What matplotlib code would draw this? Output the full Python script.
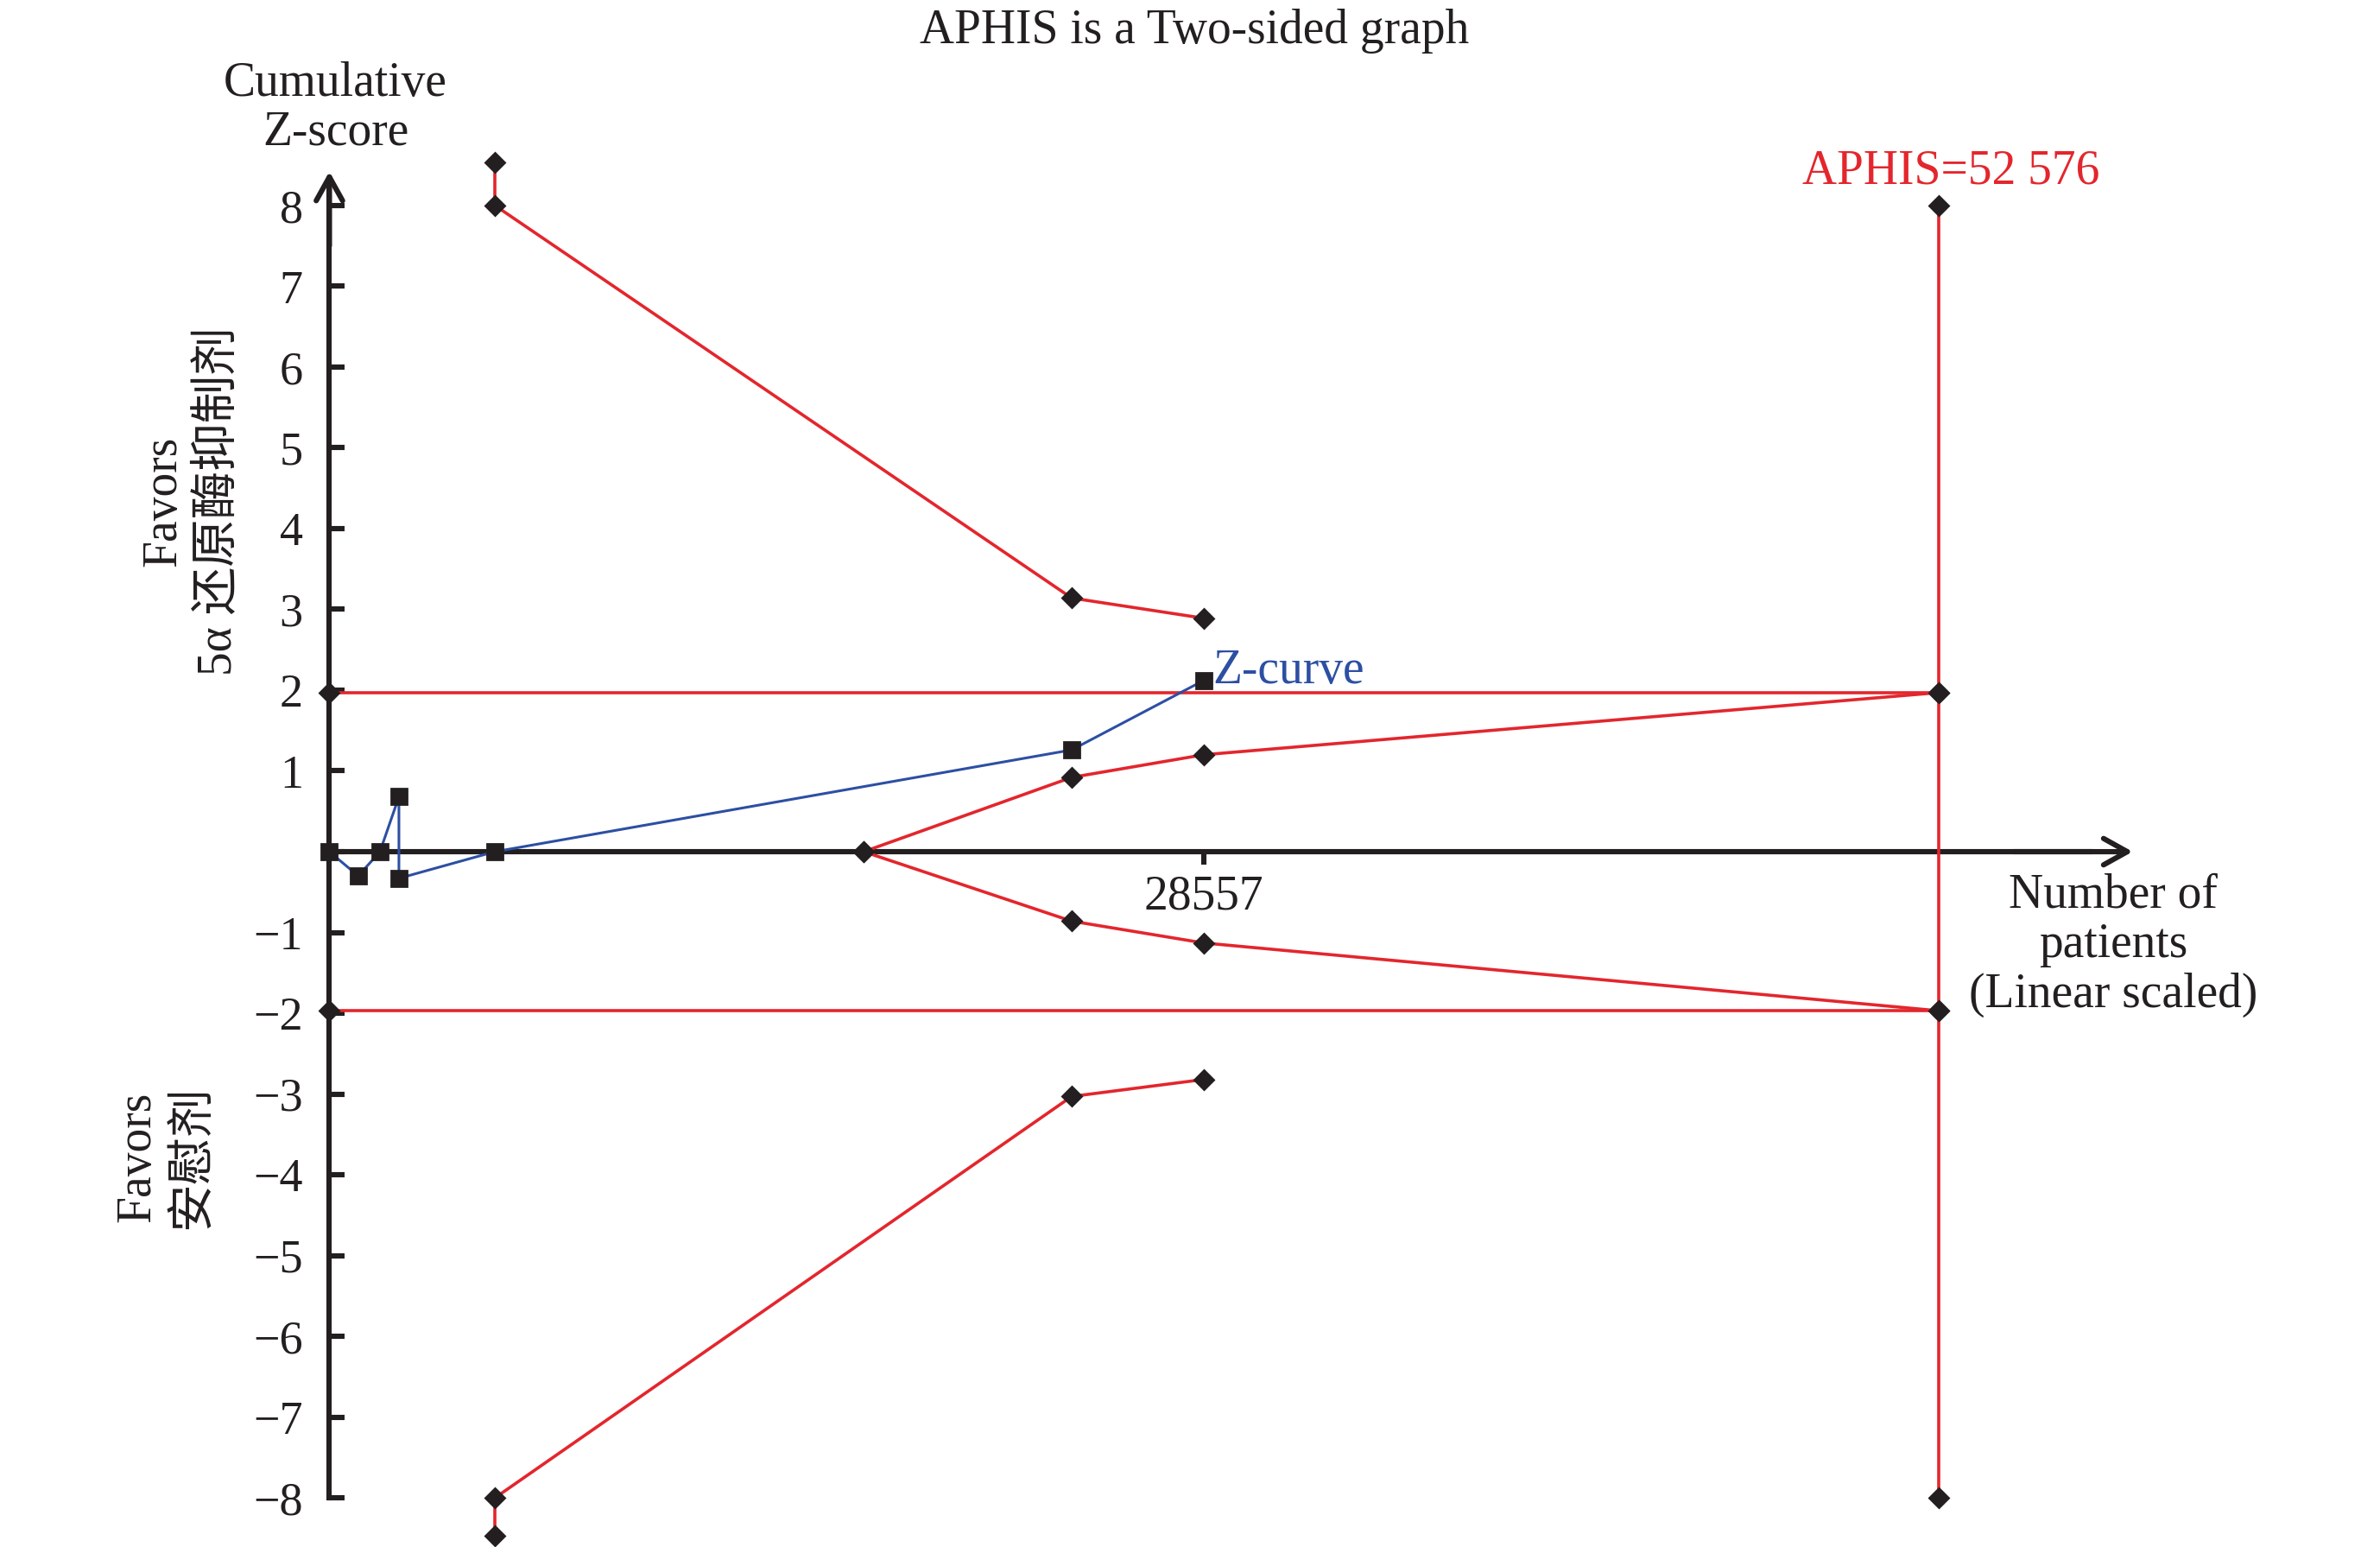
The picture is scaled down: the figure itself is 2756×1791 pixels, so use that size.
#!/usr/bin/env python3
"""TSA chart: cumulative Z-curve vs. monitoring boundaries (APHIS)."""

import matplotlib
matplotlib.use("Agg")
import matplotlib.pyplot as plt

# ---------------------------------------------------------------------------
# Data
# ---------------------------------------------------------------------------
aphis = 52576
x_tick = 28557

# Z-curve (cumulative Z-score after each trial)
z_n = [0, 942, 1651, 2271, 2271, 5404, 24245, 28557]
z_val = [0, -0.30, 0, 0.68, -0.33, 0, 1.26, 2.12]

# trial sequential monitoring boundaries
bound_n = [5404, 5404, 24245, 28557]
bound_upper = [8.53, 8.0, 3.14, 2.89]
bound_lower = [-8.47, -8.0, -3.03, -2.82]

# futility (inner wedge)
fut_n = [17452, 24245, 28557, aphis]
fut_upper = [0, 0.92, 1.20, 1.97]
fut_lower = [0, -0.86, -1.13, -1.97]

# conventional boundaries
conv_n = [0, aphis]
conv_z = 1.97

y_ticks = [-8, -7, -6, -5, -4, -3, -2, -1, 0, 1, 2, 3, 4, 5, 6, 7, 8]
y_labels = ["" if v == 0 else ("\u2212%d" % -v if v < 0 else str(v)) for v in y_ticks]

RED = "#e3262d"
BLUE = "#2d4fa3"
INK = "#231f20"
FONT = ["Liberation Serif", "Noto Sans CJK SC"]
plt.rcParams["font.family"] = FONT

fig = plt.figure(figsize=(13.78, 8.955), dpi=200)
fig.patch.set_facecolor("white")
ax = fig.add_axes([0.1384, 0.003, 0.7577, 0.9112])
ax.set_xlim(0, 58900)
ax.set_ylim(-8.55, 8.9)
ax.patch.set_alpha(0)

# axes as arrows
for s in ("top", "right"):
    ax.spines[s].set_visible(False)
ax.spines["left"].set_position(("data", 0))
ax.spines["left"].set_bounds(-8, 8.2)
ax.spines["bottom"].set_position(("data", 0))
ax.spines["bottom"].set_bounds(0, 57500)
for s in ("left", "bottom"):
    ax.spines[s].set_linewidth(2.2)
    ax.spines[s].set_color(INK)
    ax.spines[s].set_zorder(1)
arrow = dict(arrowstyle="->,head_length=0.45,head_width=0.25", lw=2.2, color=INK,
             shrinkA=0, shrinkB=0, mutation_scale=22)
ax.annotate("", xy=(0, 8.42), xytext=(0, 7.5), arrowprops=arrow)
ax.annotate("", xy=(58900, 0), xytext=(55000, 0), arrowprops=arrow)

ax.set_yticks(y_ticks)
ax.set_yticklabels(y_labels)
ax.tick_params(axis="y", direction="in", length=6.3, width=2.2, pad=11,
               labelsize=19.5, colors=INK)
ax.set_xticks([x_tick])
ax.set_xticklabels([str(x_tick)])
ax.tick_params(axis="x", direction="out", length=5.4, width=2.2, pad=4,
               labelsize=20, colors=INK)

mk = dict(marker="D", ms=5.5, mfc=INK, mec=INK, clip_on=False, zorder=4)

# conventional boundaries
ax.plot(conv_n, [conv_z, conv_z], color=RED, lw=1.3, **mk)
ax.plot(conv_n, [-conv_z, -conv_z], color=RED, lw=1.3, **mk)
# APHIS vertical line
ax.plot([aphis, aphis], [8, -8], color=RED, lw=1.3, **mk)
# monitoring boundaries
ax.plot(bound_n, bound_upper, color=RED, lw=1.3, **mk)
ax.plot(bound_n, bound_lower, color=RED, lw=1.3, **mk)
# futility wedge
ax.plot(fut_n, fut_upper, color=RED, lw=1.3, **mk)
ax.plot(fut_n, fut_lower, color=RED, lw=1.3, **mk)

# Z-curve
ax.plot(z_n, z_val, color=BLUE, lw=1.1, marker="s", ms=6.5, mfc=INK, mec=INK,
        clip_on=False, zorder=5)
ax.text(z_n[-1] + 300, 2.24, "Z-curve", color=BLUE, fontsize=20,
        ha="left", va="center")
ax.text(aphis + 400, 8.42, "APHIS=52 576", color=RED,
        fontsize=20, ha="center", va="center")

# texts
fig.text(0.502, 0.980, "APHIS is a Two-sided graph", fontsize=20,
         ha="center", va="center", color=INK)
fig.text(0.141, 0.930, "Cumulative\nZ-score", fontsize=20, ha="center",
         va="center", linespacing=1.13, color=INK)
fig.text(0.888, 0.389, "Number of\npatients\n(Linear scaled)", fontsize=20,
         ha="center", va="center", linespacing=1.13, color=INK)
fig.text(0.0804, 0.676, "Favors\n5\u03b1 还原酶抑制剂", fontsize=20, rotation=90,
         ha="center", va="center", multialignment="center", linespacing=1.3,
         color=INK)
fig.text(0.0695, 0.252, "Favors\n安慰剂", fontsize=20, rotation=90,
         ha="center", va="center", multialignment="center", linespacing=1.3,
         color=INK)

plt.savefig("out.png", dpi=200, facecolor="white")
plt.close()
